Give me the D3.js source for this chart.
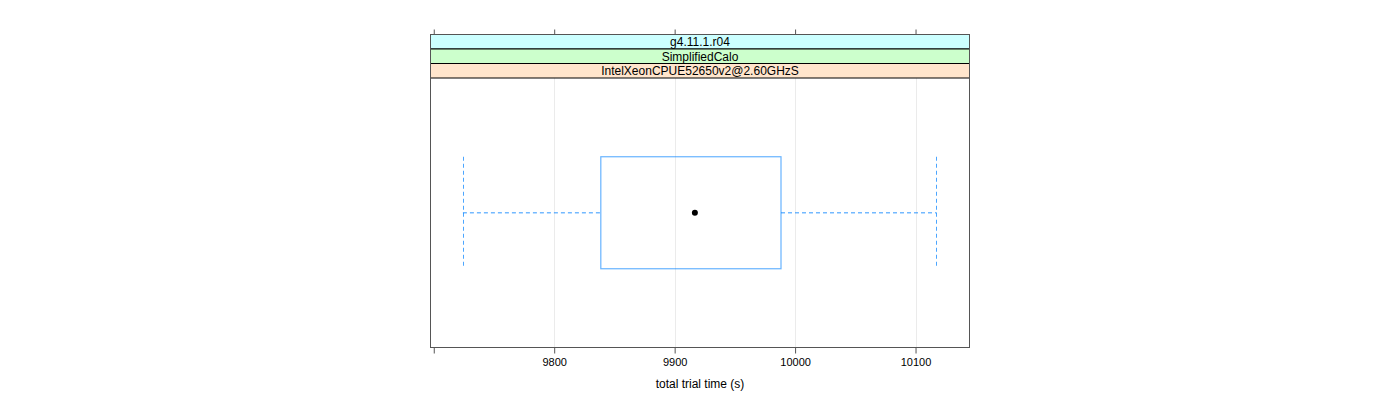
<!DOCTYPE html>
<html><head><meta charset="utf-8">
<script src="https://cdn.jsdelivr.net/npm/d3@7"></script>
<style>body{margin:0;background:#fff;}svg{display:block;font-family:"Liberation Sans",Arial,sans-serif;}</style>
</head><body>
<script>
const strips = ["g4.11.1.r04", "SimplifiedCalo", "IntelXeonCPUE52650v2@2.60GHzS"];
const stripColors = ["#ccffff", "#ccffcc", "#ffe5cc"];
const categories = ["run"];
const whiskerLow = [9724.2];
const q1 = [9838.7];
const median = [9916.8];
const q3 = [9988.3];
const whiskerHigh = [10117.4];
const tickValues = [9700, 9800, 9900, 10000, 10100];
const tickLabels = ["", "9800", "9900", "10000", "10100"];
const xTitle = "total trial time (s)";

(function () {
const W = 1400, H = 400;
const svg = d3.select("body").append("svg").attr("width", W).attr("height", H);
const pLeft = 430.5, pRight = 969.5, pTop = 34.5, stripH = 14.5, pBottom = 347.5;
const panelTop = pTop + stripH * strips.length;
const x = d3.scaleLinear().domain([9697.3, 10144.8]).range([pLeft, pRight]);
const y = d3.scaleBand().domain(categories).range([panelTop, pBottom]).paddingInner(0).paddingOuter(0);
const boxH = 112;

// gridlines
svg.append("g").selectAll("line").data(tickValues.slice(1)).join("line")
  .attr("x1", d => Math.round(x(d)) + 0.5).attr("x2", d => Math.round(x(d)) + 0.5)
  .attr("y1", panelTop).attr("y2", pBottom)
  .attr("stroke", "#ebebeb").attr("stroke-width", 1);

// strips
const sg = svg.append("g");
strips.forEach((s, i) => {
  sg.append("rect").attr("x", pLeft).attr("y", pTop + i * stripH).attr("width", pRight - pLeft).attr("height", stripH)
    .attr("fill", stripColors[i]).attr("stroke", "#000").attr("stroke-width", 1);
  sg.append("text").attr("x", (pLeft + pRight) / 2).attr("y", pTop + i * stripH + stripH / 2 + 4.5)
    .attr("text-anchor", "middle").attr("font-size", 12).attr("fill", "#000").text(s);
});

// panel frame
svg.append("rect").attr("x", pLeft).attr("y", pTop).attr("width", pRight - pLeft).attr("height", pBottom - pTop)
  .attr("fill", "none").attr("stroke", "#555").attr("stroke-width", 1);

// axes
const xb = d3.axisBottom(x).tickValues(tickValues).tickFormat((d, i) => tickLabels[i]).tickSize(6).tickSizeOuter(0);
const gb = svg.append("g").attr("transform", `translate(0,${pBottom})`).call(xb);
gb.select(".domain").remove();
gb.selectAll(".tick line").attr("stroke", "#555");
gb.selectAll("text").attr("font-size", 11).attr("fill", "#000").attr("dy", "0.9em").attr("font-family", "Liberation Sans, Arial, sans-serif");
const xt = d3.axisTop(x).tickValues(tickValues).tickFormat("").tickSize(5).tickSizeOuter(0);
const gt = svg.append("g").attr("transform", `translate(0,${pTop})`).call(xt);
gt.select(".domain").remove();
gt.selectAll(".tick line").attr("stroke", "#555");

svg.append("text").attr("x", (pLeft + pRight) / 2).attr("y", 388).attr("text-anchor", "middle")
  .attr("font-size", 12).attr("fill", "#000").text(xTitle);

// box plot
const bcol = "#0080ff";
categories.forEach((c, i) => {
  const cy = y(c) + y.bandwidth() / 2;
  const g = svg.append("g");
  g.append("line").attr("x1", x(whiskerLow[i])).attr("x2", x(q1[i])).attr("y1", cy).attr("y2", cy)
    .attr("stroke", bcol).attr("stroke-opacity", 0.55).attr("stroke-width", 1.5).attr("stroke-dasharray", "4,3");
  g.append("line").attr("x1", x(q3[i])).attr("x2", x(whiskerHigh[i])).attr("y1", cy).attr("y2", cy)
    .attr("stroke", bcol).attr("stroke-opacity", 0.55).attr("stroke-width", 1.5).attr("stroke-dasharray", "4,3");
  [whiskerLow[i], whiskerHigh[i]].forEach(v => {
    g.append("line").attr("x1", Math.round(x(v)) + 0.5).attr("x2", Math.round(x(v)) + 0.5)
      .attr("y1", cy - boxH / 2).attr("y2", cy + boxH / 2)
      .attr("stroke", bcol).attr("stroke-opacity", 0.7).attr("stroke-width", 1).attr("stroke-dasharray", "4,3");
  });
  g.append("rect").attr("x", x(q1[i])).attr("y", cy - boxH / 2).attr("width", x(q3[i]) - x(q1[i])).attr("height", boxH)
    .attr("fill", "none").attr("stroke", bcol).attr("stroke-opacity", 0.6).attr("stroke-width", 1.2);
  g.append("circle").attr("cx", x(median[i])).attr("cy", cy).attr("r", 3).attr("fill", "#000");
});
})();
</script>
</body></html>
